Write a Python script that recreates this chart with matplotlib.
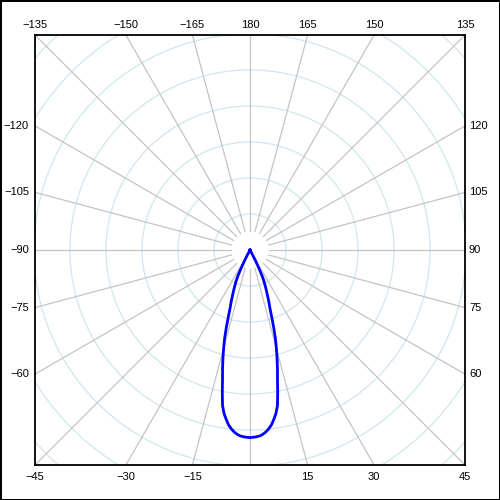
import numpy as np
import matplotlib
matplotlib.use("Agg")
import matplotlib.pyplot as plt
from matplotlib.patches import Circle

# intensity curve (angle in degrees, 0 = straight down, value in cd)
curve_angles = [-29, -28, -27, -26, -25, -24, -23, -22, -21, -20,
                -19, -18, -17, -16, -15, -14, -13, -12, -11, -10,
                -9, -8, -7, -6, -5, -4, -3, -2, -1, 0,
                1, 2, 3, 4, 5, 6, 7, 8, 9, 10,
                11, 12, 13, 14, 15, 16, 17, 18, 19, 20,
                21, 22, 23, 24, 25, 26, 27, 28, 29]
curve_values = [0, 17, 36, 58, 81, 96, 108, 122, 136, 153,
                169, 194, 225, 256, 283, 311, 339, 367, 403, 439,
                460, 475, 489, 499, 507, 513, 517, 519, 520, 521,
                520, 519, 517, 513, 507, 499, 489, 475, 460, 439,
                403, 367, 339, 311, 283, 256, 225, 194, 169, 153,
                136, 122, 108, 96, 81, 58, 36, 17, 0]

ring_values = [100, 200, 300, 400, 500, 600, 700, 800]
spoke_angles = list(range(-165, 181, 15))
label_angles = [a for a in spoke_angles if a != 0]

r_lim = 597
spoke_start = 53
spoke_end = 1000


def to_xy(angle, r):
    t = np.radians(angle)
    return r * np.sin(t), -r * np.cos(t)


def edge_label(ax, angle):
    t = np.radians(angle)
    s, c = round(np.sin(t), 6), round(np.cos(t), 6)
    d = r_lim / max(abs(s), abs(c))
    x, y = to_xy(angle, d)
    if abs(c) >= abs(s):
        if c > 0:
            off, ha, va = (0, -7), "center", "top"
        else:
            off, ha, va = (0, 5), "center", "bottom"
    else:
        if s > 0:
            off, ha, va = (4, 0), "left", "center"
        else:
            off, ha, va = (-6, 0), "right", "center"
    txt = str(angle).replace("-", "\u2212")
    ax.annotate(txt, (x, y), xytext=off, textcoords="offset pixels",
                ha=ha, va=va, fontsize=8, family=["Liberation Sans", "DejaVu Sans"],
                annotation_clip=False)


def main():
    fig = plt.figure(figsize=(5, 5), dpi=100, edgecolor="black", linewidth=2)
    ax = fig.add_axes([0.07, 0.07, 0.86, 0.86])

    for r in ring_values:
        ax.add_patch(Circle((0, 0), r, fill=False, edgecolor="#cde7ef", lw=0.9))

    for a in spoke_angles:
        x0, y0 = to_xy(a, spoke_start)
        x1, y1 = to_xy(a, spoke_end)
        ax.plot([x0, x1], [y0, y1], color="#c4c4c4", lw=0.9)

    cx, cy = to_xy(np.array(curve_angles), np.array(curve_values))
    ax.plot(cx, cy, color="#0000ff", lw=2, solid_joinstyle="round")

    for a in label_angles:
        edge_label(ax, a)

    ax.set_xlim(-r_lim, r_lim)
    ax.set_ylim(-r_lim, r_lim)
    ax.set_aspect("equal")
    ax.set_xticks([])
    ax.set_yticks([])
    for sp in ax.spines.values():
        sp.set_linewidth(1.3)
        sp.set_color("black")

    fig.savefig("out.png", dpi=100)


if __name__ == "__main__":
    main()
